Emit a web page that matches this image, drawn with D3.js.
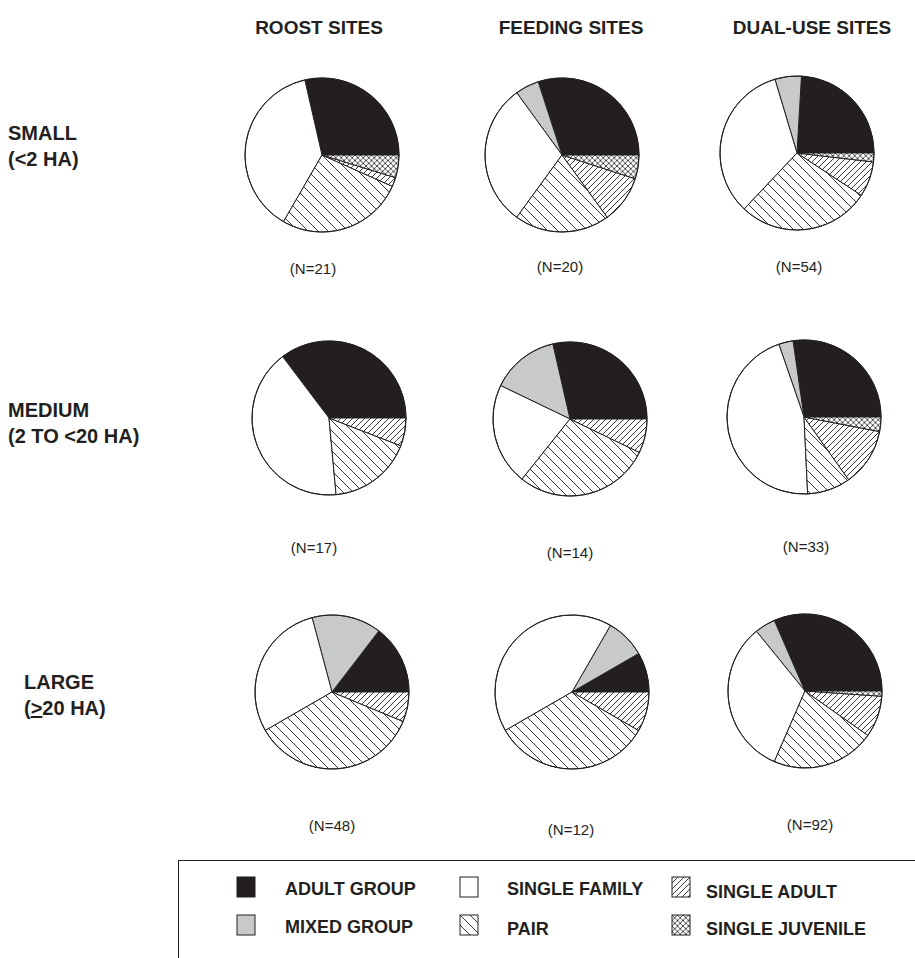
<!DOCTYPE html>
<html>
<head>
<meta charset="utf-8">
<script src="https://cdn.jsdelivr.net/npm/d3@7"></script>
<style>
  html, body { margin: 0; padding: 0; background: #fff; }
  svg { display: block; }
  text { font-family: "Liberation Sans", Arial, sans-serif; fill: #231f20; }
</style>
</head>
<body>
<svg id="chart" width="915" height="958"></svg>
<script>
// ---------- DATA ----------
const categories = ["ADULT GROUP", "MIXED GROUP", "SINGLE FAMILY", "PAIR", "SINGLE ADULT", "SINGLE JUVENILE"];
const siteTypes = ["ROOST SITES", "FEEDING SITES", "DUAL-USE SITES"];
const sizeClasses = ["SMALL", "MEDIUM", "LARGE"];
const sizeRanges = ["(<2 HA)", "(2 TO <20 HA)", "(>20 HA)"];

// values per category (same order as categories)
const roostSmall    = [6, 0, 8, 5.6, 0.4, 1];
const feedingSmall  = [6, 1, 6, 4, 2, 1];
const dualSmall     = [13, 3, 18, 15, 4, 1];
const roostMedium   = [6, 0, 7, 3, 1, 0];
const feedingMedium = [4, 2, 3, 4, 1, 0];
const dualMedium    = [9, 1, 15, 3, 4, 1];
const roostLarge    = [7, 7, 14, 17, 3, 0];
const feedingLarge  = [1, 1, 5, 4, 1, 0];
const dualLarge     = [29, 4, 30, 20, 8, 1];
const sampleSizes   = [21, 20, 54, 17, 14, 33, 48, 12, 92];

// ---------- LAYOUT ----------
const pieValues = [roostSmall, feedingSmall, dualSmall,
                   roostMedium, feedingMedium, dualMedium,
                   roostLarge, feedingLarge, dualLarge];
const colX = d3.scaleOrdinal().domain(siteTypes).range([327, 568, 802]);
const rowY = d3.scaleOrdinal().domain(sizeClasses).range([154, 418, 692]);
const pieNudge = [[-5, 1], [-6, 1], [-5, -1],
                  [2, 0], [2, 1], [2, -1],
                  [5, 0], [4, 0], [3, -1]];
const nLabelNudge = [[-9, 119], [-2, 117], [2, 119],
                     [-15, 135], [0, 139], [2, 135],
                     [0, 139], [-1, 143], [5, 139]];
const R = 77;

const svg = d3.select("#chart");
const defs = svg.append("defs");
const ink = "#231f20";

function hatch(id, size, angles, sw) {
  const p = defs.append("pattern")
    .attr("id", id)
    .attr("patternUnits", "userSpaceOnUse")
    .attr("width", size).attr("height", size);
  p.append("rect").attr("width", size).attr("height", size).attr("fill", "#fff");
  angles.forEach(a => {
    if (a === "back") {
      p.append("path").attr("d", `M0,0 L${size},${size} M${-size},0 L${size},${2*size} M0,${-size} L${2*size},${size}`)
        .attr("stroke", ink).attr("stroke-width", sw).attr("fill", "none");
    } else {
      p.append("path").attr("d", `M0,${size} L${size},0 M${-size},${size} L${size},${-size} M0,${2*size} L${2*size},0`)
        .attr("stroke", ink).attr("stroke-width", sw).attr("fill", "none");
    }
  });
}
hatch("pairHatch", 10, ["back"], 0.9);
hatch("adultHatch", 6, ["fwd"], 0.9);
hatch("juvHatch", 5.5, ["back", "fwd"], 0.8);

const fills = d3.scaleOrdinal().domain(categories)
  .range([ink, "#c8c9cb", "#ffffff", "url(#pairHatch)", "url(#adultHatch)", "url(#juvHatch)"]);

// slices run counter-clockwise from 3 o'clock starting with ADULT GROUP
const pie = d3.pie().sort(null).value(d => d.v)
  .startAngle(Math.PI / 2).endAngle(Math.PI / 2 - 2 * Math.PI);
const arc = d3.arc().innerRadius(0).outerRadius(R);

sizeClasses.forEach((sz, ri) => {
  siteTypes.forEach((st, ci) => {
    const k = ri * 3 + ci;
    const cx = colX(st) + pieNudge[k][0];
    const cy = rowY(sz) + pieNudge[k][1];
    const data = categories.map((c, i) => ({ c, v: pieValues[k][i] }));
    const g = svg.append("g").attr("transform", `translate(${cx},${cy})`);
    g.selectAll("path.slice")
      .data(pie(data).filter(d => d.data.v > 0))
      .join("path")
      .attr("class", "slice")
      .attr("d", arc)
      .attr("fill", d => fills(d.data.c))
      .attr("stroke", ink)
      .attr("stroke-width", 1)
      .attr("stroke-linejoin", "round");
    g.append("circle").attr("r", R).attr("fill", "none").attr("stroke", ink).attr("stroke-width", 1);
    svg.append("text")
      .attr("x", cx + nLabelNudge[k][0])
      .attr("y", cy + nLabelNudge[k][1])
      .attr("text-anchor", "middle")
      .attr("font-size", 15)
      .text(`(N=${sampleSizes[k]})`);
  });
});

// column headers
svg.selectAll("text.head").data(siteTypes).join("text")
  .attr("class", "head")
  .attr("x", (d, i) => colX(d) + [-8, 3, 10][i])
  .attr("y", 34)
  .attr("text-anchor", "middle")
  .attr("font-size", 19).attr("font-weight", "bold")
  .text(d => d);

// row labels
const rowLabelX = [8, 8, 24];
const rowLabelY = [140, 417, 689];
sizeClasses.forEach((sz, i) => {
  const t = svg.append("text")
    .attr("x", rowLabelX[i]).attr("y", rowLabelY[i])
    .attr("font-size", 20).attr("font-weight", "bold");
  t.append("tspan").attr("x", rowLabelX[i]).text(sz);
  const t2 = t.append("tspan").attr("x", rowLabelX[i]).attr("dy", 26);
  if (i === 2) {
    t2.append("tspan").text("(");
    t2.append("tspan").attr("text-decoration", "underline").text(">");
    t2.append("tspan").text("20 HA)");
  } else {
    t2.text(sizeRanges[i]);
  }
});

// legend
svg.append("rect").attr("x", 178.5).attr("y", 860.5).attr("width", 760).attr("height", 120)
  .attr("fill", "none").attr("stroke", ink).attr("stroke-width", 1);
const legX = [237, 460, 672];
const legTextX = [285, 507, 706];
const legY = [877, 915];
const legendOrder = [[0, 0], [1, 0], [0, 1], [1, 1], [0, 2], [1, 2]]; // [row, col]
const leg = svg.selectAll("g.leg").data(categories).join("g").attr("class", "leg")
  .attr("transform", (d, i) => `translate(${legX[legendOrder[i][1]]},${legY[legendOrder[i][0]]})`);
leg.append("rect").attr("width", 18).attr("height", 20)
  .attr("fill", d => fills(d)).attr("stroke", ink).attr("stroke-width", 1);
leg.append("text")
  .attr("x", (d, i) => legTextX[legendOrder[i][1]] - legX[legendOrder[i][1]])
  .attr("y", (d, i) => 18 + (i === 3 || i === 5 ? 2 : 0) + (i === 4 ? 3 : 0))
  .attr("font-size", 18).attr("font-weight", "bold")
  .text(d => d);
</script>
</body>
</html>
